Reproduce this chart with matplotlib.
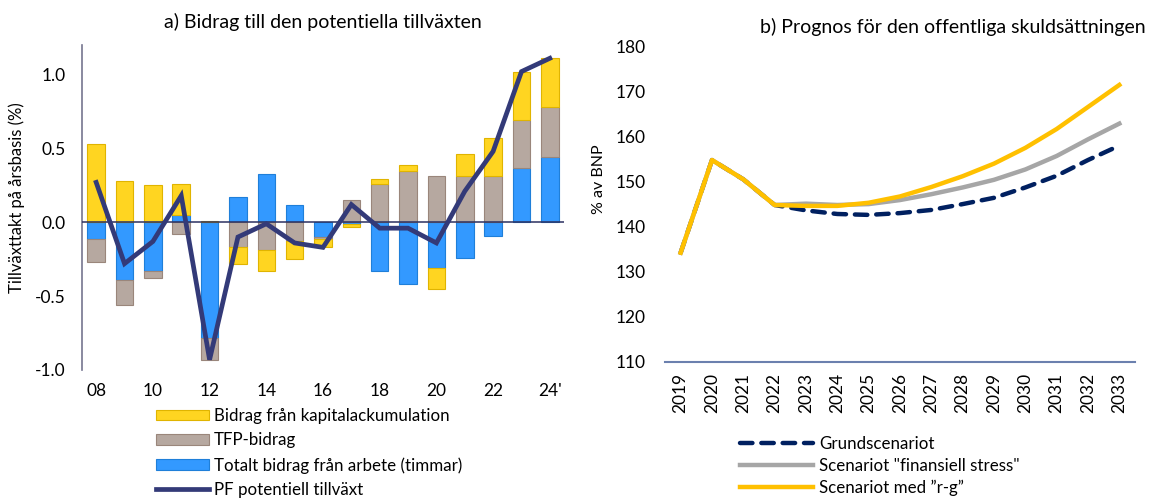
import matplotlib
matplotlib.use("Agg")
import matplotlib.pyplot as plt
import numpy as np

plt.rcParams['font.family'] = ['Lato', 'DejaVu Sans']
plt.rcParams['font.size'] = 12
plt.rcParams['axes.unicode_minus'] = False

# a) contributions to potential growth
years_a = ['08', '09', '10', '11', '12', '13', '14', '15', '16',
           '17', '18', '19', '20', '21', '22', '23', "24'"]
labour = [-0.11, -0.39, -0.33, 0.05, -0.78, 0.17, 0.33, 0.115, -0.10,
          -0.01, -0.33, -0.42, -0.31, -0.24, -0.09, 0.37, 0.44]
tfp = [-0.16, -0.17, -0.05, -0.08, -0.15, -0.17, -0.19, -0.13, -0.01,
       0.15, 0.26, 0.345, 0.31, 0.31, 0.31, 0.32, 0.34]
capital = [0.53, 0.28, 0.25, 0.21, 0.01, -0.11, -0.14, -0.12, -0.06,
           -0.02, 0.03, 0.04, -0.14, 0.15, 0.26, 0.33, 0.33]
pf_growth = [0.27, -0.28, -0.13, 0.18, -0.93, -0.10, -0.01, -0.14, -0.17,
             0.12, -0.04, -0.04, -0.14, 0.21, 0.48, 1.02, 1.11]

# b) debt projections
years_b = [str(y) for y in range(2019, 2034)]
base = [134.2, 154.8, 150.5, 144.8, 143.6, 142.8, 142.6, 143.0, 143.7,
        145.0, 146.4, 148.7, 151.3, 154.8, 158.0]
stress = [134.2, 154.8, 150.5, 144.8, 145.1, 144.8, 145.0, 145.9, 147.2,
          148.7, 150.4, 152.7, 155.7, 159.4, 162.9]
rg = [134.2, 154.8, 150.5, 144.8, 144.6, 144.6, 145.3, 146.7, 148.8,
      151.2, 154.0, 157.5, 161.7, 166.6, 171.5]

W, H = 1151, 499
fig = plt.figure(figsize=(W / 100, H / 100), dpi=100)

# ---- left panel
ax1 = fig.add_axes([82 / W, 1 - 370 / H, (564 - 82) / W, (370 - 45) / H])
x = np.arange(len(years_a))
pos_bottom = np.zeros(len(x))
neg_bottom = np.zeros(len(x))
series = [
    (labour, '#3399FF', '#1F7FD9', 'Totalt bidrag från arbete (timmar)'),
    (tfp, '#B6A8A0', '#9A867B', 'TFP-bidrag'),
    (capital, '#FFD521', '#E0B400', 'Bidrag från kapitalackumulation'),
]
bar_handles = []
for vals, fc, ec, lab in series:
    vals = np.array(vals)
    bottom = np.where(vals >= 0, pos_bottom, neg_bottom)
    b = ax1.bar(x, vals, 0.62, bottom=bottom, color=fc, edgecolor=ec,
                linewidth=0.8, label=lab, zorder=2)
    bar_handles.append(b)
    pos_bottom += np.where(vals >= 0, vals, 0)
    neg_bottom += np.where(vals < 0, vals, 0)

pf_line, = ax1.plot(x, pf_growth, color='#333A78', lw=3.4, zorder=4,
                    solid_joinstyle='miter', label='PF potentiell tillväxt')
ax1.axhline(0, color='#2B3060', lw=1.1, zorder=3)

ax1.set_xlim(-0.5, len(x) - 0.5)
ax1.set_ylim(-1.0, 1.2)
ax1.set_yticks([-1.0, -0.5, 0.0, 0.5, 1.0])
ax1.set_yticklabels([f"{v:.1f}" for v in [-1.0, -0.5, 0.0, 0.5, 1.0]])
ax1.set_xticks(x[::2])
ax1.set_xticklabels(years_a[::2])
ax1.tick_params(axis='both', length=0, labelsize=12.5)
ax1.tick_params(axis='y', pad=12)
ax1.tick_params(axis='x', pad=9)
for s in ['top', 'right', 'bottom']:
    ax1.spines[s].set_visible(False)
ax1.spines['left'].set_color('#75758F')
ax1.spines['left'].set_linewidth(1.2)
ax1.set_ylabel('Tillväxttakt på årsbasis (%)', fontsize=12)
ax1.yaxis.set_label_coords(-0.118, 0.53)
ax1.set_title('a) Bidrag till den potentiella tillväxten', fontsize=14, pad=12)

leg_a_handles = [bar_handles[2], bar_handles[1], bar_handles[0], pf_line]
leg_a_labels = ['Bidrag från kapitalackumulation', 'TFP-bidrag',
                'Totalt bidrag från arbete (timmar)', 'PF potentiell tillväxt']
fig.legend(leg_a_handles, leg_a_labels, loc='upper left',
           bbox_to_anchor=(156 / W, 1 - 408 / H), frameon=False,
           borderpad=0, borderaxespad=0, handlelength=3.1, handleheight=0.55,
           handletextpad=0.3, labelspacing=0.5, fontsize=12.2)

# ---- right panel
ax2 = fig.add_axes([665 / W, 1 - 361.5 / H, (1135 - 665) / W, (361.5 - 46.7) / H])
xb = np.arange(len(years_b))
l_base, = ax2.plot(xb, base, color='#002060', lw=3.2, dashes=(2.8, 2.0),
                   dash_capstyle='round', zorder=2)
l_stress, = ax2.plot(xb, stress, color='#A6A6A6', lw=3.2, zorder=3)
l_rg, = ax2.plot(xb, rg, color='#FFC000', lw=3.2, zorder=4)
ax2.set_xlim(-0.5, len(xb) - 0.5)
ax2.set_ylim(110, 180)
ax2.set_yticks(range(110, 181, 10))
ax2.set_xticks(xb)
ax2.set_xticklabels(years_b, rotation=90)
ax2.tick_params(axis='both', length=0, labelsize=12.5)
ax2.tick_params(axis='y', pad=14)
ax2.tick_params(axis='x', pad=8)
for s in ['top', 'right', 'left']:
    ax2.spines[s].set_visible(False)
ax2.spines['bottom'].set_color('#6B80AE')
ax2.spines['bottom'].set_linewidth(1.5)
ax2.set_ylabel('% av BNP', fontsize=11.5)
ax2.yaxis.set_label_coords(-0.125, 0.58)
fig.text(760 / W, 1 - 27 / H, 'b) Prognos för den offentliga skuldsättningen',
         fontsize=14, ha='left', va='center')

fig.legend([l_base, l_stress, l_rg],
           ['Grundscenariot', 'Scenariot "finansiell stress"', 'Scenariot med ”r-g”'],
           loc='upper left', bbox_to_anchor=(740 / W, 1 - 436 / H), frameon=False,
           borderpad=0, borderaxespad=0, handlelength=4.3,
           handletextpad=0.35, labelspacing=0.33, fontsize=12.2)

fig.savefig('out.png', dpi=100)
